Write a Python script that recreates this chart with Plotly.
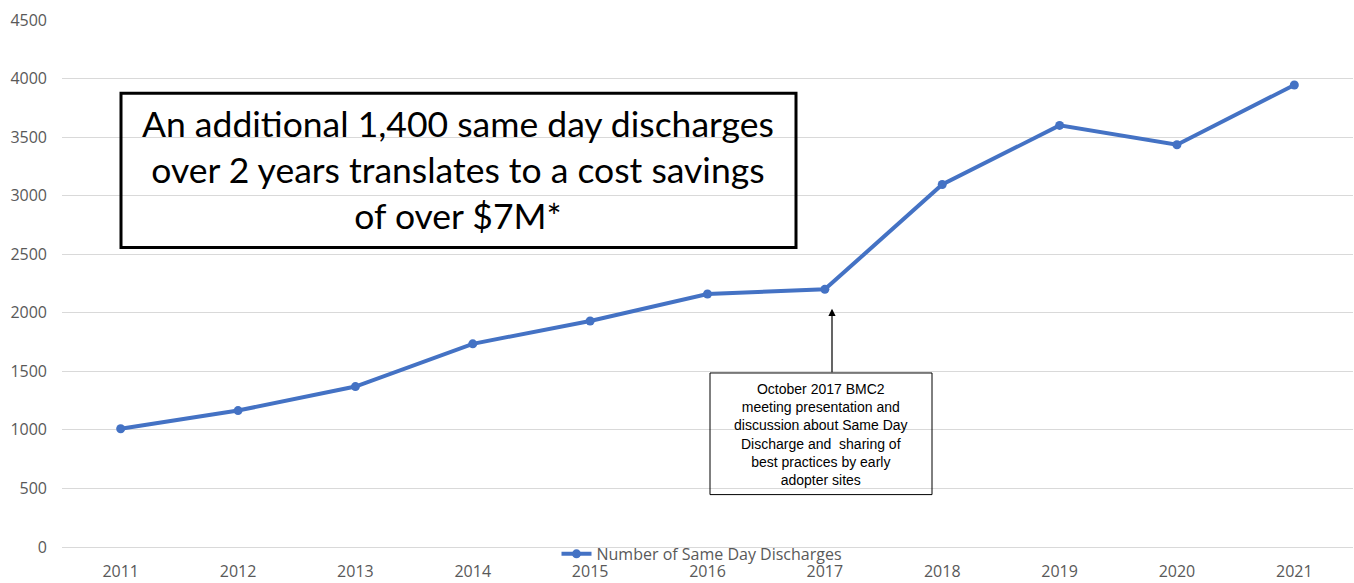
import plotly.graph_objects as go

years = ["2011", "2012", "2013", "2014", "2015", "2016", "2017", "2018", "2019", "2020", "2021"]
discharges = [1010, 1165, 1370, 1735, 1930, 2160, 2200, 3095, 3600, 3435, 3945]
series_name = "Number of Same Day Discharges"
y_ticks = [0, 500, 1000, 1500, 2000, 2500, 3000, 3500, 4000, 4500]

W, H = 1354, 583
ML, MR, MT, MB = 62, 1, 20, 30
PW, PH = W - ML - MR, H - MT - MB

def px(x):
    return (x - ML) / PW

def py(y):
    return (H - MB - y) / PH

fig = go.Figure()
fig.add_trace(go.Scatter(
    x=years, y=discharges, name=series_name, mode="lines+markers",
    line=dict(color="#4472C4", width=4),
    marker=dict(color="#4472C4", size=9),
))

fig.update_layout(
    width=W, height=H,
    margin=dict(l=ML, r=MR, t=MT, b=MB),
    paper_bgcolor="white", plot_bgcolor="white",
    showlegend=True,
    legend=dict(orientation="h", x=px(702), xanchor="center", y=py(560), yanchor="middle",
                bgcolor="rgba(0,0,0,0)", font=dict(family="Open Sans", size=16, color="#595959"),
                itemwidth=30),
    font=dict(family="Open Sans", color="#595959"),
)
fig.update_xaxes(
    type="category", range=[-0.5, 10.5], showgrid=False,
    showline=True, linecolor="#d9d9d9", linewidth=1,
    ticks="outside", ticklen=10, tickcolor="rgba(0,0,0,0)",
    tickfont=dict(family="Open Sans", size=16, color="#595959"),
)
fig.update_yaxes(
    range=[0, 4500], tickvals=y_ticks, showgrid=True, gridcolor="#d9d9d9", gridwidth=1,
    zeroline=False, ticklabelstandoff=14,
    tickfont=dict(family="Open Sans", size=16, color="#595959"),
)

# Big statement box
fig.add_shape(type="rect", xref="paper", yref="paper",
              x0=px(121), x1=px(796), y0=py(250), y1=py(94),
              line=dict(color="black", width=3), fillcolor="rgba(0,0,0,0)", layer="above")
fig.add_annotation(xref="paper", yref="paper", x=px(458), y=py(171),
                   xanchor="center", yanchor="middle",
                   text="An additional 1,400 same day discharges<br>over 2 years translates to a cost savings<br>of over $7M*",
                   showarrow=False, align="center",
                   font=dict(family="Lato", size=35.5, color="black"))

# Callout box
fig.add_shape(type="rect", xref="paper", yref="paper",
              x0=px(710), x1=px(932), y0=py(500), y1=py(377),
              line=dict(color="black", width=1), fillcolor="rgba(0,0,0,0)", layer="above")
fig.add_annotation(xref="paper", yref="paper", x=px(821), y=py(439),
                   xanchor="center", yanchor="middle",
                   text="October 2017 BMC2<br>meeting presentation and<br>discussion about Same Day<br>Discharge and  sharing of<br>best practices by early<br>adopter sites",
                   showarrow=False, align="center",
                   font=dict(family="Liberation Sans", size=14, color="black"))
fig.add_annotation(xref="paper", yref="paper", x=px(832), y=py(312),
                   axref="pixel", ayref="pixel", ax=0, ay=65,
                   text="", showarrow=True, arrowhead=2, arrowsize=1.2, arrowwidth=1.2,
                   arrowcolor="black")

fig.write_html("out.html", post_script="document.body.style.margin='0';",
               config={"displayModeBar": False})
